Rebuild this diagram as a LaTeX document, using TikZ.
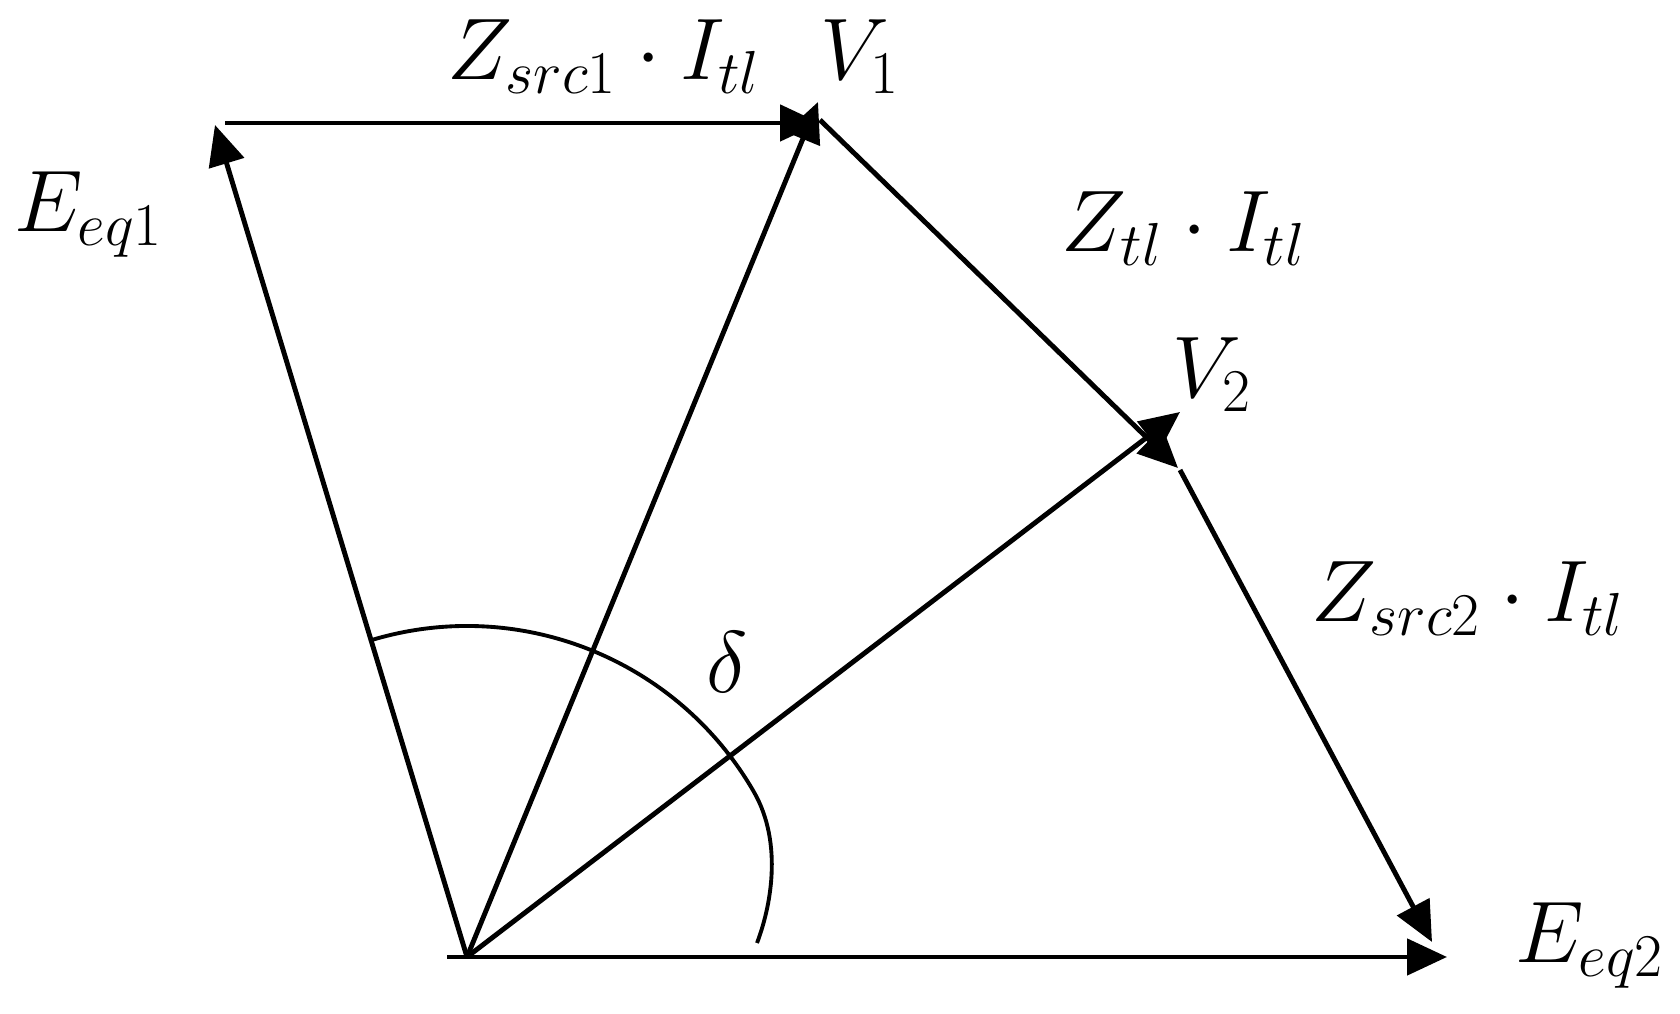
\documentclass[tikz,border=0pt]{standalone}
\usetikzlibrary{arrows.meta}
\begin{document}
\begin{tikzpicture}[
    vec/.style={line width=1.4pt, -{Triangle[length=4mm, width=3.6mm]}},
    arcline/.style={line width=1.1pt},
    lbl/.style={anchor=base, inner sep=0pt, font=\fontsize{23.5}{28}\selectfont},
]
\useasboundingbox (0,0) rectangle (16.8,10.14);

% Концы векторов
\coordinate (O) at (4.67, 0.57);
\coordinate (Oleft) at (4.47, 0.57);
\coordinate (Eeq2) at (14.47, 0.57);
\coordinate (Eeq1) at (2.15, 8.89);
\coordinate (V1) at (8.18, 9.12);
\coordinate (V2) at (11.80, 6.02);

% Концы падений напряжения
\coordinate (src1a) at (2.25, 8.91);
\coordinate (src1b) at (8.20, 8.91);
\coordinate (tla) at (8.20, 8.94);
\coordinate (tlb) at (11.78, 5.46);
\coordinate (src2a) at (11.80, 5.44);
\coordinate (src2b) at (14.32, 0.72);

% Векторы из начала координат
\draw[vec] (Oleft) -- (Eeq2);
\draw[vec] (O) -- (Eeq1);
\draw[vec] (O) -- (V1);
\draw[vec] (O) -- (V2);

% Падения напряжения
\draw[vec] (src1a) -- (src1b);
\draw[vec] (tla) -- (tlb);
\draw[vec] (src2a) -- (src2b);

% Дуга угла
\draw[arcline] ([shift={(106.6:3.31)}]O) arc[start angle=106.6, end angle=30, radius=3.31]
    .. controls (7.84,1.70) and (7.70,1.05) .. (7.57,0.71);

% Подписи
\node[lbl] (lEeq1) at (0.89, 7.82) {$E_{eq1}$};
\node[lbl] (lEeq2) at (15.90, 0.51) {$E_{eq2}$};
\node[lbl] (lV1) at (8.60, 9.34) {$V_1$};
\node[lbl] (lV2) at (12.12, 6.16) {$V_2$};
\node[lbl] (lsrc1) at (6.04, 9.34) {$Z_{src1}\cdot I_{tl}$};
\node[lbl] (ltl) at (11.84, 7.62) {$Z_{tl}\cdot I_{tl}$};
\node[lbl] (lsrc2) at (14.68, 3.92) {$Z_{src2}\cdot I_{tl}$};
\node[lbl, anchor=center] (ldelta) at (7.27, 3.52) {$\delta$};

\end{tikzpicture}
\end{document}
